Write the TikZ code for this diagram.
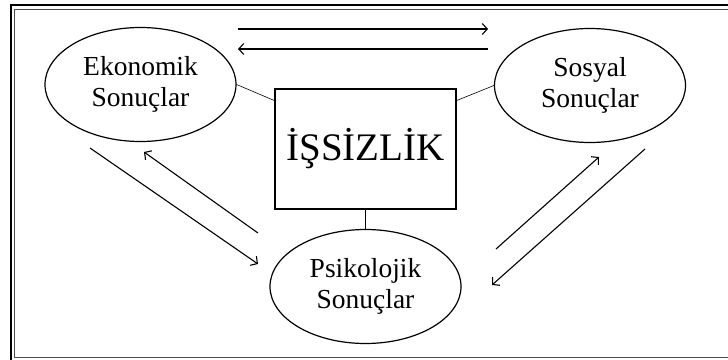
\documentclass[tikz,border=0pt]{standalone}
\usepackage{fontspec}
\setmainfont{Liberation Serif}
\usetikzlibrary{arrows,arrows.meta}
\usetikzlibrary{shapes.geometric}

\begin{document}
\begin{tikzpicture}[x=1pt,y=-1pt,
	sonuc/.style={ellipse, draw, line width=1.2pt, minimum width=191pt, minimum height=114pt, inner sep=0pt, align=center, font=\fontsize{27.5}{31}\selectfont},
	baglanti/.style={line width=0.6pt},
	ok/.style={-{Straight Barb[length=5pt,width=11pt]}, line width=1.1pt}]
					\clip (0,0) rectangle (728,359);
					\draw[line width=2.4pt] (11,5) rectangle (740,370);
					\draw[line width=1pt, gray!60!black] (14.5,9) rectangle (735,357);
					\node[draw, line width=1.2pt, minimum width=181pt, minimum height=120pt, inner sep=0pt, font=\fontsize{39}{39}\selectfont] (i) at (365.5,149) {İŞSİZLİK};
					\node[sonuc] (e) at (140.5,84.5) {Ekonomik\\Sonuçlar};
					\node[sonuc] (s) at (590,85.5) {Sosyal\\Sonuçlar};
					\node[sonuc] (p) at (365.5,286.5) {Psikolojik\\Sonuçlar};
					\draw[baglanti] (e.east) -- (i.152);
					\draw[baglanti] (s.west) -- (i.28);
					\draw[baglanti] (i) -- (p);
					% oklar
					\coordinate (u1) at (238,29);
					\coordinate (u2) at (488,29);
					\coordinate (u3) at (488,49);
					\coordinate (u4) at (238,49);
					\coordinate (l1) at (90,148);
					\coordinate (l2) at (258,264);
					\coordinate (l3) at (258,233);
					\coordinate (l4) at (144,152);
					\coordinate (r1) at (496,249);
					\coordinate (r2) at (599,157);
					\coordinate (r3) at (645,149);
					\coordinate (r4) at (492,285);
					\draw[ok] (u1) -- (u2);
					\draw[ok] (u3) -- (u4);
					\draw[ok] (l1) -- (l2);
					\draw[ok] (l3) -- (l4);
					\draw[ok] (r1) -- (r2);
					\draw[ok] (r3) -- (r4);
\end{tikzpicture}
\end{document}
